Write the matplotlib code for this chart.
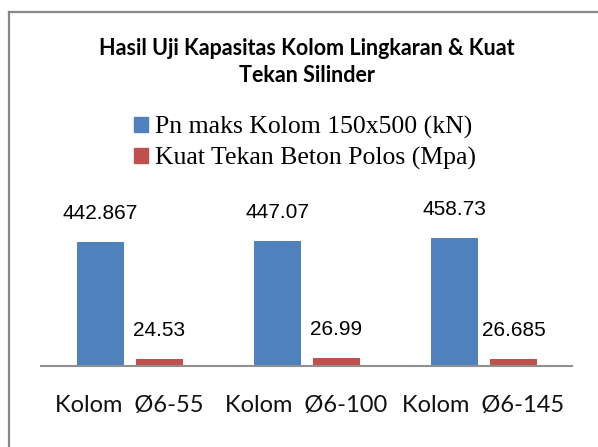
import matplotlib
matplotlib.use("Agg")
import matplotlib.pyplot as plt
from matplotlib.lines import Line2D
from matplotlib.patches import Patch

categories = ["Kolom  Ø6-55", "Kolom  Ø6-100", "Kolom  Ø6-145"]
pn_maks = [442.867, 447.07, 458.73]
kuat_tekan = [24.53, 26.99, 26.685]
pn_labels = ["442.867", "447.07", "458.73"]
kt_labels = ["24.53", "26.99", "26.685"]
series_names = ["Pn maks Kolom 150x500 (kN)", "Kuat Tekan Beton Polos (Mpa)"]
title = "Hasil Uji Kapasitas Kolom Lingkaran & Kuat\nTekan Silinder"

W, H = 598, 447
fig = plt.figure(figsize=(W / 100, H / 100), dpi=100)
fig.patch.set_facecolor("white")

# outer chart frame (left and top edges visible)
fig.add_artist(Line2D([9 / W, 9 / W], [0, 1 - 12 / H], transform=fig.transFigure,
                      color="#878787", lw=1.6))
fig.add_artist(Line2D([9 / W, 1], [1 - 12 / H, 1 - 12 / H], transform=fig.transFigure,
                      color="#878787", lw=1.6))

ax = fig.add_axes([41 / W, (H - 366) / H, 531 / W, 140 / H])
ax.set_xlim(-0.5, 2.5)
ax.set_ylim(0, 500)

blue = "#4F81BD"
red = "#C0504D"
x = list(range(len(categories)))
bw = 0.266
off_b = -0.164
off_r = 0.169
bars_b = ax.bar([i + off_b for i in x], pn_maks, width=bw, color=blue)
bars_r = ax.bar([i + off_r for i in x], kuat_tekan, width=bw, color=red)

for xi, v, lab in zip(x, pn_maks, pn_labels):
    ax.annotate(lab, (xi + off_b, v), xytext=(0, 20.5), textcoords="offset points",
                ha="center", va="center", fontsize=15, family="Liberation Sans",
                color="black", annotation_clip=False)
for xi, v, lab in zip(x, kuat_tekan, kt_labels):
    ax.annotate(lab, (xi + off_r, v), xytext=(0, 20.5), textcoords="offset points",
                ha="center", va="center", fontsize=15, family="Liberation Sans",
                color="black", annotation_clip=False)

for s in ["left", "right", "top"]:
    ax.spines[s].set_visible(False)
ax.spines["bottom"].set_color("#909090")
ax.spines["bottom"].set_linewidth(1.5)
ax.set_yticks([])
ax.set_xticks(x)
ax.set_xticklabels(categories, fontsize=17, family="Lato", color="#111111")
ax.tick_params(axis="x", length=0, pad=21)

fig.text(307 / W, 1 - 62 / H, title, ha="center", va="center", fontsize=15.5,
         fontweight="bold", family="Lato", linespacing=1.35)

handles = [Patch(color=blue), Patch(color=red)]
leg = fig.legend(handles, series_names, loc="center", bbox_to_anchor=(305 / W, 1 - 143 / H),
                 frameon=False, prop={"family": "Liberation Serif", "size": 18.5},
                 handlelength=0.55, handleheight=0.55, handletextpad=0.3, labelspacing=0.3)

fig.savefig("out.png", dpi=100, facecolor="white")
